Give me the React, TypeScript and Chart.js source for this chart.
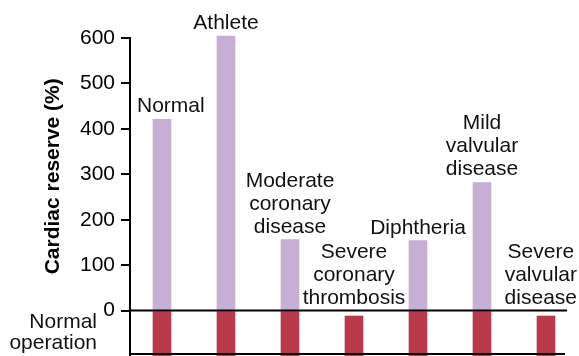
import React, { useEffect, useRef } from "react";
import { Chart, registerables } from "chart.js";

Chart.register(...registerables);

const categories: string[][] = [
  ["Normal"],
  ["Athlete"],
  ["Moderate", "coronary", "disease"],
  ["Severe", "coronary", "thrombosis"],
  ["Diphtheria"],
  ["Mild", "valvular", "disease"],
  ["Severe", "valvular", "disease"],
];
const reserveValues: number[] = [421, 604, 156, 0, 154, 282, 0];
const operationTop: number[] = [0, 0, 0, -12, 0, 0, -12];
const axisMin = -100;
const axisMax = 600;
const tickValues: number[] = [0, 100, 200, 300, 400, 500, 600];
const yTitle = "Cardiac reserve (%)";
const baselineLabel = ["Normal", "operation"];

const FONT = "'Liberation Sans', Arial, Helvetica, sans-serif";
const FS = 21;
const LAVENDER = "#C6AED4";
const RED = "#B8394B";

const annotationPlugin = {
  id: "annotations",
  afterDraw(chart: any) {
    const { ctx, chartArea } = chart;
    const y = chart.scales.y;
    const x = chart.scales.x;
    const zeroY = y.getPixelForValue(0);
    const minY = y.getPixelForValue(axisMin);
    ctx.save();
    // zero line and bottom line
    ctx.strokeStyle = "#000";
    ctx.lineWidth = 2;
    ctx.beginPath();
    ctx.moveTo(chartArea.left, zeroY);
    ctx.lineTo(chartArea.right - 11, zeroY);
    ctx.moveTo(chartArea.left, minY - 2);
    ctx.lineTo(chartArea.right - 13, minY - 2);
    ctx.stroke();

    // bar labels
    ctx.fillStyle = "#111";
    ctx.font = `${FS}px ${FONT}`;
    ctx.textAlign = "center";
    ctx.textBaseline = "alphabetic";
    const lineH = 23;
    categories.forEach((lines, i) => {
      const top = Math.max(reserveValues[i], 0);
      const py = y.getPixelForValue(top) - 7;
      const cx = x.getPixelForValue(i);
      const w = Math.max(...lines.map((l) => ctx.measureText(l).width));
      const minX = chartArea.left + 7 + w / 2;
      const maxX = chart.width - 2 - w / 2;
      const px = Math.min(Math.max(cx, minX), maxX);
      lines.forEach((line, k) => {
        ctx.fillText(line, px, py - (lines.length - 1 - k) * lineH);
      });
    });

    // Normal operation label
    ctx.textAlign = "right";
    ctx.textBaseline = "middle";
    const mid = (zeroY + minY - 3) / 2;
    ctx.fillText(baselineLabel[0], chartArea.left - 33, mid - 10);
    ctx.fillText(baselineLabel[1], chartArea.left - 33, mid + 11);

    // y title
    ctx.font = `bold ${FS}px ${FONT}`;
    ctx.textAlign = "center";
    ctx.textBaseline = "middle";
    const titleY = (y.getPixelForValue(0) + y.getPixelForValue(axisMax)) / 2 + 2;
    ctx.translate(chartArea.left - 77, titleY);
    ctx.rotate(-Math.PI / 2);
    ctx.fillStyle = "#000";
    ctx.fillText(yTitle, 0, 0);
    ctx.restore();
  },
};

export default function App() {
  const ref = useRef<HTMLCanvasElement | null>(null);
  useEffect(() => {
    if (!ref.current) return;
    const chart = new Chart(ref.current, {
      type: "bar",
      data: {
        labels: categories.map((c) => c.join(" ")),
        datasets: [
          {
            label: "Cardiac reserve",
            data: reserveValues,
            backgroundColor: LAVENDER,
            barThickness: 18,
            grouped: false,
            borderWidth: 0,
            clip: false,
          } as any,
          {
            label: "Normal operation",
            data: operationTop.map((t) => [axisMin, t]),
            backgroundColor: RED,
            barThickness: 18,
            grouped: false,
            borderWidth: 0,
          } as any,
        ],
      },
      options: {
        responsive: false,
        animation: false,
        layout: { padding: { top: 38, bottom: 0, right: 1, left: 0 } },
        plugins: {
          legend: { display: false },
          tooltip: { enabled: false },
        },
        scales: {
          x: { display: false, offset: true },
          y: {
            min: axisMin,
            max: axisMax,
            afterBuildTicks: (scale: any) => {
              scale.ticks = tickValues.map((v) => ({ value: v }));
            },
            afterFit: (scale: any) => {
              scale.width = 130;
              scale.paddingTop = 0;
              scale.paddingBottom = 0;
            },
            ticks: {
              color: "#000",
              font: { family: FONT, size: FS },
              padding: 6,
            },
            grid: {
              drawOnChartArea: false,
              drawTicks: true,
              tickLength: 9,
              color: "#000",
              lineWidth: 2,
            },
            border: { display: true, color: "#000", width: 2 },
          },
        },
      },
      plugins: [annotationPlugin],
    });
    return () => chart.destroy();
  }, []);
  return (
    <div style={{ position: "absolute", left: 0, top: 0, width: 579, height: 356 }}>
      <canvas ref={ref} width={579} height={356} />
    </div>
  );
}
